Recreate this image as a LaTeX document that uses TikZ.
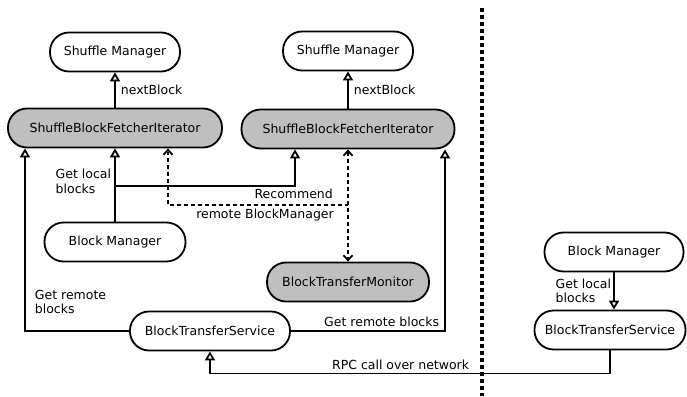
\documentclass[tikz,border=0pt]{standalone}
\usepackage{fontspec}
\setmainfont{DejaVu Sans}
\usepackage{tikz}
\usetikzlibrary{arrows.meta,calc}
\tikzset{barb/.tip={Straight Barb[length=5pt,width=9pt,line width=1.8pt]}}
\tikzstyle{comp} = [draw=black, line width=1.8pt, rounded corners=19pt, minimum height=39pt, inner sep=0pt, font={\fontsize{12.5}{15}\selectfont}]
\tikzstyle{busy} = [fill=black!25]
\tikzstyle{lbl} = [font={\fontsize{12.5}{14.5}\selectfont}, align=left, inner sep=2pt]
\tikzstyle{flow} = [line width=1.8pt, -{Triangle[open,length=9pt,width=10pt,line width=1.8pt]}]
\tikzstyle{rec} = [line width=1.8pt, dash pattern=on 4pt off 3pt]
\tikzstyle{net} = [line width=4pt, dash pattern=on 4pt off 3pt]

\begin{document}
\begin{tikzpicture}[x=1pt,y=-1pt]
        \useasboundingbox (0,0) rectangle (687,396);
        \node[comp,minimum width=130pt](smL) at (115,52){Shuffle Manager};
        \node[comp,minimum width=130pt](smR) at (348,51){Shuffle Manager};
        \node[comp,busy,minimum width=214pt](sbfiL) at (115,128){ShuffleBlockFetcherIterator};
        \node[comp,busy,minimum width=213pt](sbfiR) at (348,129){ShuffleBlockFetcherIterator};
        \node[comp,minimum width=141pt](bmL) at (115,242){Block Manager};
        \node[comp,busy,minimum width=162pt](btm) at (348,282){BlockTransferMonitor};
        \node[comp,minimum width=160pt](btsL) at (210,331){BlockTransferService};
        \node[comp,minimum width=139pt](bmR) at (614,252){Block Manager};
        \node[comp,minimum width=151pt](btsR) at (610,330){BlockTransferService};
        \coordinate (jn) at (348,205);
        \coordinate (top) at (482,8);
        \coordinate (bot) at (482,396);
        \draw[flow](sbfiL)--(smL) node[lbl,midway,right,xshift=3pt]{nextBlock};
        \draw[flow](sbfiR)--(smR) node[lbl,midway,right,xshift=3pt]{nextBlock};
        \draw[flow](bmL)--(sbfiL) node[lbl,pos=0.55,left,xshift=-1pt]{Get local\\blocks};
        \draw[flow]([yshift=36pt]bmL.north)-|([xshift=-53pt]sbfiR.south);
        \draw[rec,barb-](sbfiL.south -| 168,0)|-(jn);
        \draw[rec,barb-barb](sbfiR)--(btm);
        \node[lbl,anchor=east] at ([xshift=-13pt,yshift=11pt]jn){Recommend};
        \node[lbl,anchor=east] at ([xshift=-12pt,yshift=-10pt]jn){remote BlockManager};
        \draw[flow](btsL.west)-|([xshift=-90pt]sbfiL.south) node[lbl,pos=0.5,anchor=south west,xshift=7pt,yshift=14pt]{Get remote\\blocks};
        \draw[flow](btsL.east)-|([xshift=97pt]sbfiR.south) node[lbl,pos=0.5,anchor=south east,xshift=-3pt,yshift=1pt]{Get remote blocks};
        \draw[flow](btsR.south)--++(0,23) node[lbl,anchor=south east,xshift=-138pt,yshift=1pt]{RPC call over network} -|(btsL.south);
        \draw[flow](bmR.south)--(bmR.south |- btsR.north) node[lbl,midway,left,xshift=0pt]{Get local\\blocks};
        \draw[net](top)--(bot);
\end{tikzpicture}
\end{document}
